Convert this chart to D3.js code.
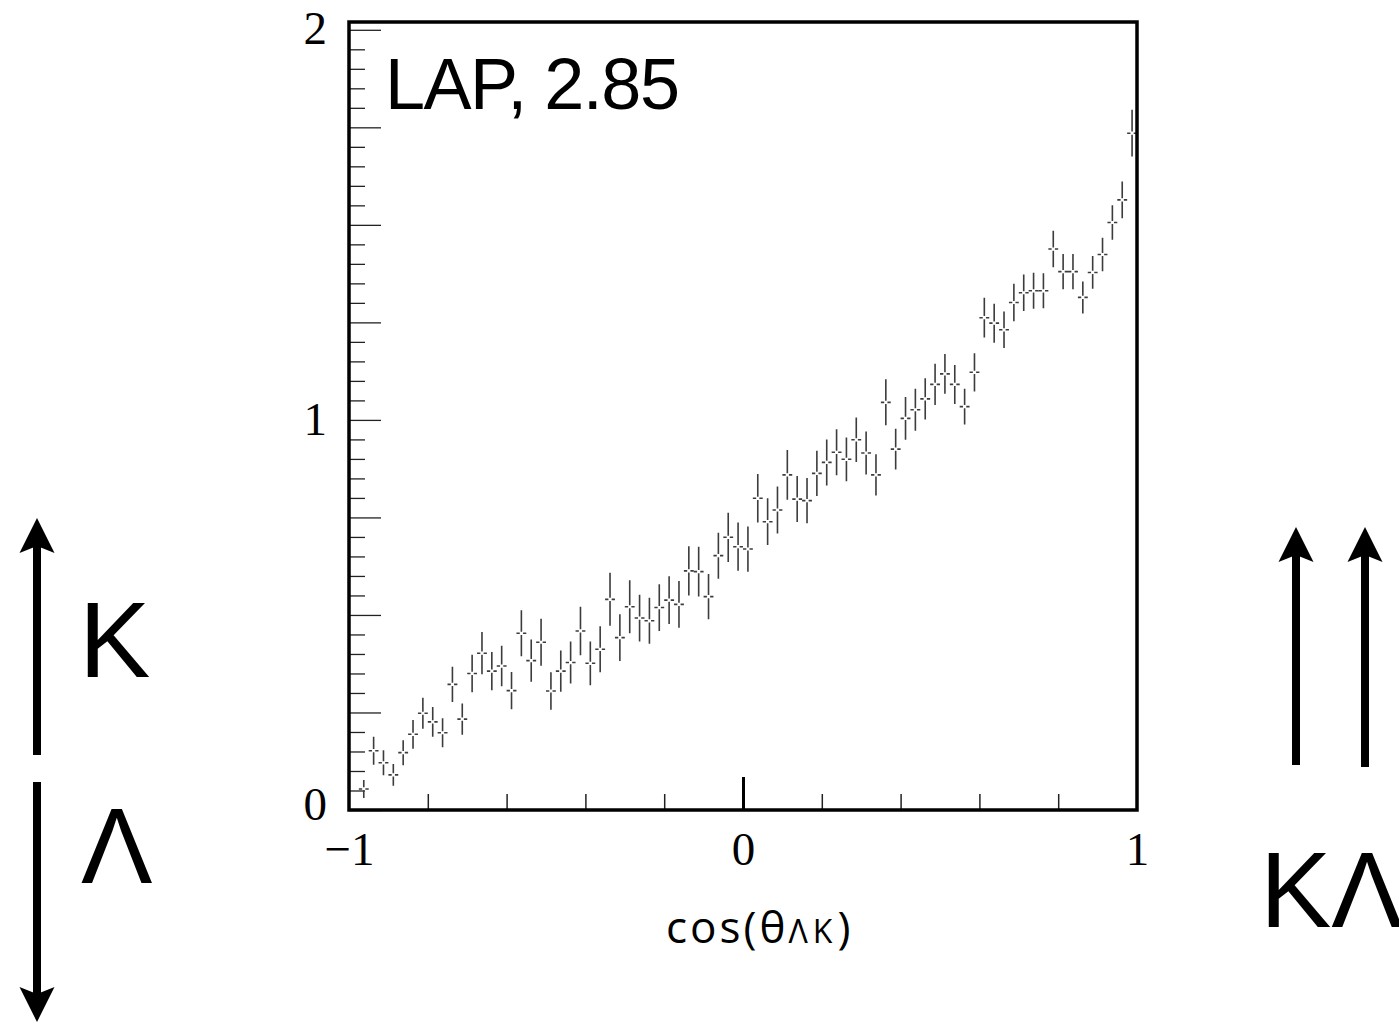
<!DOCTYPE html>
<html>
<head>
<meta charset="utf-8">
<script src="https://cdn.jsdelivr.net/npm/d3@7"></script>
<style>
  html, body { margin: 0; padding: 0; background: #fff; }
  svg { display: block; }
</style>
</head>
<body>
<div id="chart"></div>
<script>
// histogram: 80 bins over cos(theta) in [-1, 1]
var binRange = [-1, 1];
var nBins = 80;

// bin contents (first bin empty / not drawn)
var values = [
    null, 0.054, 0.152, 0.121, 0.090, 0.147, 0.194, 0.248, 0.226, 0.198,
    0.322, 0.233, 0.350, 0.402, 0.356, 0.369, 0.306, 0.453, 0.383, 0.430,
    0.305, 0.356, 0.378, 0.459, 0.376, 0.412, 0.540, 0.442, 0.521, 0.492,
    0.485, 0.519, 0.538, 0.527, 0.613, 0.611, 0.547, 0.652, 0.699, 0.675,
    0.669, 0.799, 0.739, 0.769, 0.859, 0.797, 0.793, 0.863, 0.891, 0.917,
    0.899, 0.949, 0.915, 0.859, 1.045, 0.925, 1.004, 1.026, 1.054, 1.091,
    1.118, 1.091, 1.034, 1.122, 1.262, 1.248, 1.231, 1.301, 1.326, 1.331,
    1.331, 1.438, 1.380, 1.380, 1.314, 1.378, 1.424, 1.506, 1.564, 1.735
];

// statistical errors per bin
var errors = [
    0, 0.023, 0.036, 0.032, 0.028, 0.032, 0.037, 0.040, 0.038, 0.037,
    0.045, 0.040, 0.048, 0.054, 0.049, 0.052, 0.048, 0.059, 0.054, 0.060,
    0.048, 0.053, 0.054, 0.062, 0.056, 0.059, 0.068, 0.060, 0.068, 0.060,
    0.059, 0.060, 0.061, 0.060, 0.063, 0.064, 0.058, 0.059, 0.063, 0.062,
    0.058, 0.062, 0.060, 0.060, 0.064, 0.059, 0.058, 0.058, 0.059, 0.059,
    0.056, 0.057, 0.055, 0.053, 0.059, 0.052, 0.055, 0.054, 0.053, 0.053,
    0.051, 0.050, 0.046, 0.049, 0.051, 0.050, 0.047, 0.048, 0.047, 0.046,
    0.045, 0.047, 0.045, 0.045, 0.041, 0.042, 0.043, 0.044, 0.047, 0.060
];

var xLabels = [-1, 0, 1];
var yLabels = [0, 1, 2];
var yMax = 2.02;
var plotLabel = 'LAP, 2.85';

var W = 1399, H = 1027;
var padL = 349, padR = 1137, padT = 22, padB = 810;

var svg = d3.select('#chart').append('svg')
    .attr('width', W)
    .attr('height', H);

var x = d3.scaleLinear().domain(binRange).range([padL, padR]);
var y = d3.scaleLinear().domain([0, yMax]).range([padB, padT]);

var binWidth = (binRange[1] - binRange[0]) / nBins;
var data = values.map(function (v, i) {
    return { c: binRange[0] + (i + 0.5) * binWidth, v: v, e: errors[i] };
}).filter(function (d) { return d.v !== null; });

// y axis ticks (inside the frame)
var yMinor = d3.range(0, 2.001, 0.05).filter(function (t) { return Math.abs(t / 0.25 - Math.round(t / 0.25)) > 1e-6; });
var yMajor = d3.range(0, 2.001, 0.25);

svg.append('g')
    .attr('transform', 'translate(' + padL + ',0)')
    .call(d3.axisRight(y).tickValues(yMinor).tickSize(16).tickFormat(''))
    .call(function (g) { g.select('.domain').remove(); })
    .selectAll('line').attr('stroke', '#222').attr('stroke-width', 1.3);

svg.append('g')
    .attr('transform', 'translate(' + padL + ',0)')
    .call(d3.axisRight(y).tickValues(yMajor).tickSize(32).tickFormat(''))
    .call(function (g) { g.select('.domain').remove(); })
    .selectAll('line').attr('stroke', '#222').attr('stroke-width', 1.3);

var yLab = svg.append('g')
    .attr('transform', 'translate(' + padL + ',0)')
    .call(d3.axisLeft(y).tickValues(yLabels).tickSize(0).tickPadding(22).tickFormat(d3.format('d')));
yLab.select('.domain').remove();
yLab.selectAll('text')
    .style('font-family', '"Liberation Serif", "Times New Roman", serif')
    .style('font-size', '47px')
    .attr('fill', '#000')
    .attr('dy', function (d) { return d === 0 ? '0.2em' : '0.3em'; });

// x axis ticks (pointing up)
var xMinor = [-0.8, -0.6, -0.4, -0.2, 0.2, 0.4, 0.6, 0.8];
svg.append('g')
    .attr('transform', 'translate(0,' + padB + ')')
    .call(d3.axisTop(x).tickValues(xMinor).tickSize(16).tickFormat(''))
    .call(function (g) { g.select('.domain').remove(); })
    .selectAll('line').attr('stroke', '#222').attr('stroke-width', 1.5);

svg.append('g')
    .attr('transform', 'translate(0,' + padB + ')')
    .call(d3.axisTop(x).tickValues([0]).tickSize(33).tickFormat(''))
    .call(function (g) { g.select('.domain').remove(); })
    .selectAll('line').attr('stroke', '#000').attr('stroke-width', 3);

var xLab = svg.append('g')
    .attr('transform', 'translate(0,' + padB + ')')
    .call(d3.axisBottom(x).tickValues(xLabels).tickSize(0).tickPadding(22).tickFormat(d3.format('d')));
xLab.select('.domain').remove();
xLab.selectAll('text')
    .style('font-family', '"Liberation Serif", "Times New Roman", serif')
    .style('font-size', '47px')
    .attr('fill', '#000');

// data points: ROOT style error crosses
var hw = (x(binWidth) - x(0)) / 2;
var gap = 1.6;
var pts = svg.append('g').attr('class', 'points')
    .attr('stroke', '#3c3c3c')
    .attr('stroke-width', 1.6);

pts.selectAll('path')
    .data(data)
    .join('path')
    .attr('fill', 'none')
    .attr('d', function (d) {
        var cx = x(d.c), cy = y(d.v);
        var yt = y(d.v + d.e), yb = y(d.v - d.e);
        return 'M' + (cx - hw) + ',' + cy + 'H' + (cx - gap) +
            'M' + (cx + gap) + ',' + cy + 'H' + (cx + hw) +
            'M' + cx + ',' + yt + 'V' + (cy - gap) +
            'M' + cx + ',' + (cy + gap) + 'V' + yb;
    });

// frame
svg.append('rect')
    .attr('x', padL)
    .attr('y', padT)
    .attr('width', padR - padL)
    .attr('height', padB - padT)
    .attr('fill', 'none')
    .attr('stroke', '#000')
    .attr('stroke-width', 3.5);

// label inside the pad
svg.append('text')
    .attr('x', 385)
    .attr('y', 109)
    .style('font-family', '"Liberation Sans", Arial, sans-serif')
    .style('font-size', '72px')
    .style('letter-spacing', '-1.5px')
    .attr('fill', '#000')
    .text(plotLabel);

// x axis title
var title = svg.append('text')
    .attr('x', 666)
    .attr('y', 943)
    .style('font-family', '"Open Sans", "DejaVu Sans", sans-serif')
    .style('font-size', '44px')
    .style('letter-spacing', '3px')
    .attr('fill', '#000');
title.append('tspan').text('cos(θ');
title.append('tspan').style('font-size', '32px').style('letter-spacing', '5px').text('ΛK');
title.append('tspan').text(')');

// spin arrows
function arrow(g, xc, y1, y2, up) {
    // line from y1 to y2, arrowhead at the y2 end
    var dir = up ? -1 : 1;
    var headLen = 35, headHalf = 17.5, notch = 7;
    g.append('line')
        .attr('x1', xc).attr('x2', xc)
        .attr('y1', y1).attr('y2', y2 - dir * (headLen - notch))
        .attr('stroke', '#000')
        .attr('stroke-width', 8);
    g.append('path')
        .attr('d', 'M' + xc + ',' + y2 +
            'L' + (xc + headHalf) + ',' + (y2 - dir * headLen) +
            'L' + xc + ',' + (y2 - dir * (headLen - notch)) +
            'L' + (xc - headHalf) + ',' + (y2 - dir * headLen) + 'Z')
        .attr('fill', '#000');
}

var ann = svg.append('g');
arrow(ann, 37, 755, 518, true);
arrow(ann, 37, 782, 1022, false);
arrow(ann, 1296, 765, 527, true);
arrow(ann, 1365, 767, 527, true);

var bigFont = '"Liberation Sans", Arial, sans-serif';
ann.append('text').attr('x', 79).attr('y', 677)
    .style('font-family', bigFont).style('font-size', '107px').text('K');
ann.append('text').attr('x', 81).attr('y', 883)
    .style('font-family', bigFont).style('font-size', '107px').text('Λ');
ann.append('text').attr('x', 1260).attr('y', 927)
    .style('font-family', bigFont).style('font-size', '107px').text('KΛ');
</script>
</body>
</html>
